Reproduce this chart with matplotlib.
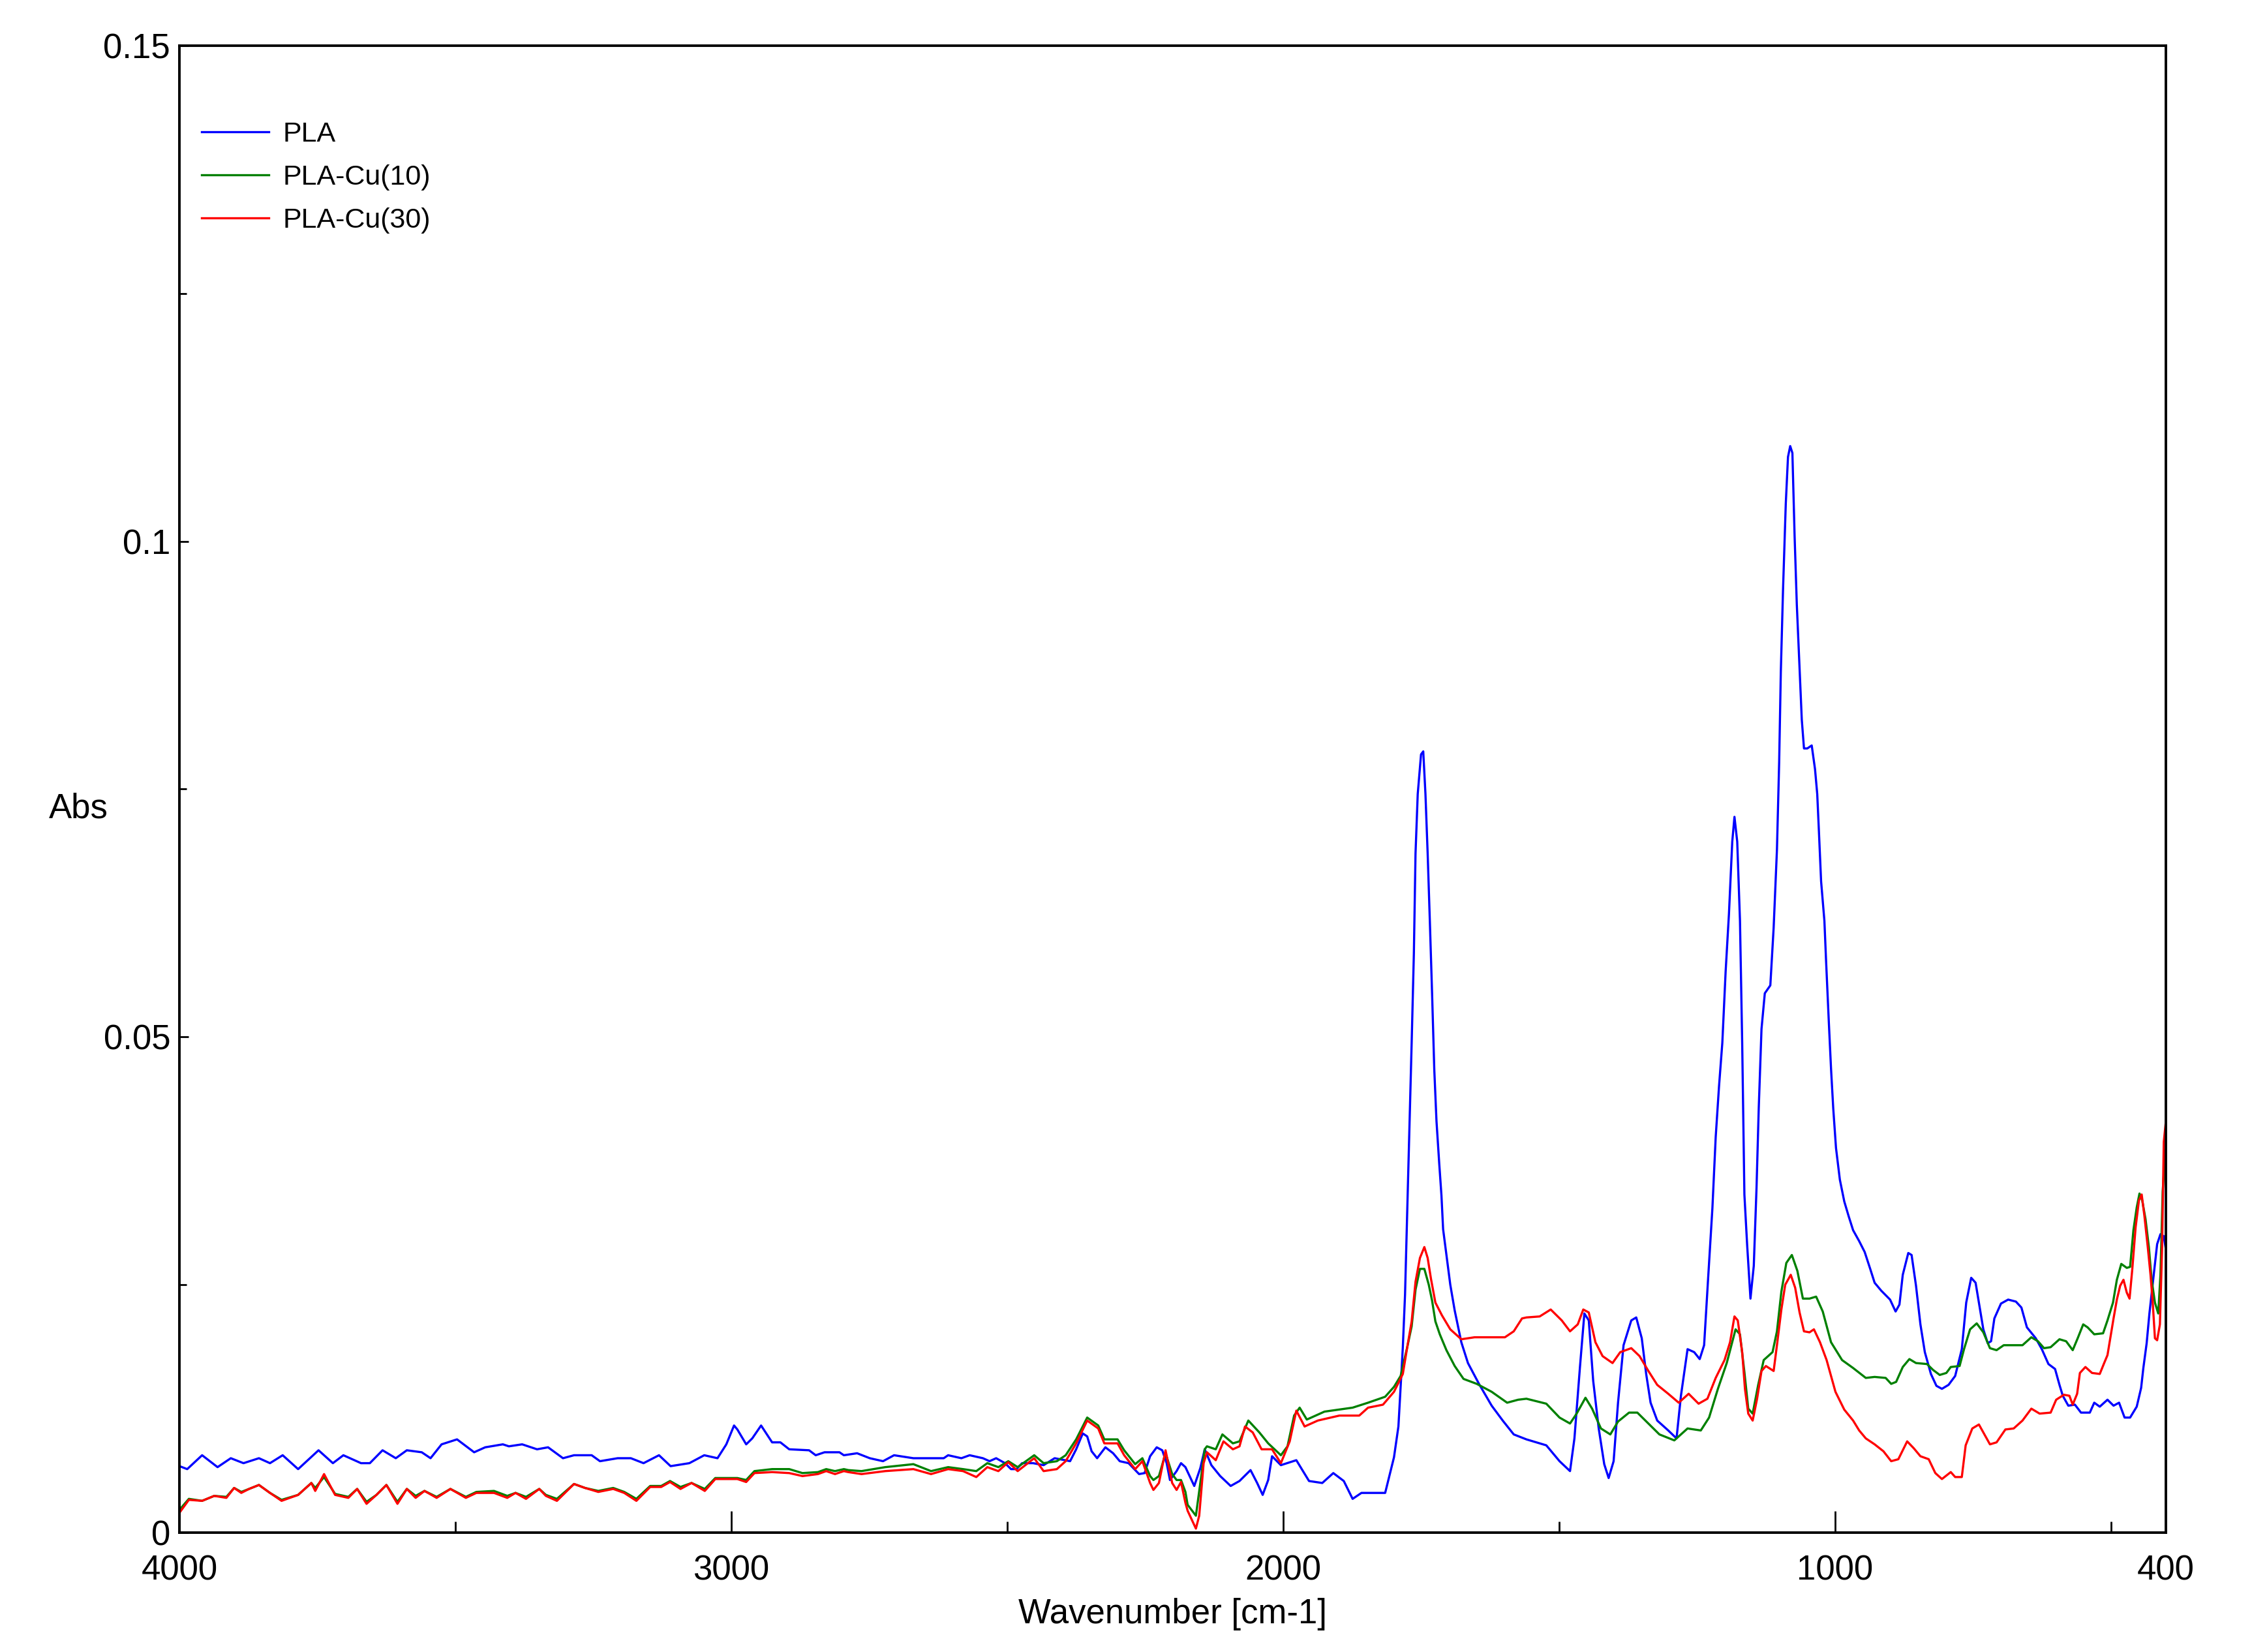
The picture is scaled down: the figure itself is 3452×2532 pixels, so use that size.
"""FTIR de PLA y PLA-Cu: absorbancia vs numero de onda (4000-400 cm-1)."""
import matplotlib
matplotlib.use("Agg")
import matplotlib.pyplot as plt
from matplotlib.ticker import FixedLocator

plt.rcParams["font.family"] = ["Liberation Sans", "DejaVu Sans"]

# --- datos (cm-1, Abs) ---
pla_wn = [4000, 3986, 3959, 3931, 3907, 3884, 3856, 3836, 3813, 3785, 3748, 3722, 3703, 3671, 3655,
          3632, 3608, 3588, 3561, 3545, 3525, 3497, 3466, 3446, 3414, 3403, 3379, 3352, 3332, 3305,
          3285, 3253, 3238, 3206, 3182, 3159, 3131, 3110, 3076, 3049, 3025, 3009, 2995, 2989, 2973,
          2962, 2946, 2926, 2911, 2895, 2859, 2847, 2831, 2804, 2796, 2772, 2749, 2725, 2705, 2670,
          2615, 2607, 2583, 2568, 2544, 2532, 2520, 2504, 2493, 2483, 2473, 2453, 2434, 2414, 2386,
          2375, 2363, 2355, 2347, 2337, 2322, 2308, 2296, 2280, 2261, 2251, 2241, 2229, 2219, 2211,
          2205, 2193, 2185, 2177, 2161, 2150, 2142, 2130, 2114, 2095, 2079, 2059, 2047, 2037, 2027,
          2020, 2004, 1976, 1953, 1929, 1909, 1890, 1874, 1858, 1815, 1799, 1791, 1783, 1779, 1775,
          1771, 1767, 1763, 1760, 1756, 1750, 1746, 1742, 1738, 1734, 1730, 1726, 1722, 1717, 1713,
          1710, 1704, 1697, 1689, 1677, 1665, 1645, 1622, 1602, 1582, 1559, 1523, 1499, 1480, 1472,
          1462, 1454, 1446, 1438, 1428, 1418, 1410, 1401, 1393, 1383, 1369, 1360, 1350, 1342, 1334,
          1322, 1302, 1287, 1279, 1267, 1255, 1245, 1237, 1230, 1222, 1216, 1210, 1204, 1198, 1192,
          1186, 1182, 1177, 1172, 1168, 1164, 1159, 1153, 1147, 1142, 1138, 1133, 1127, 1117, 1111,
          1105, 1101, 1098, 1094, 1089, 1085, 1081, 1077, 1073, 1069, 1064, 1060, 1056, 1050, 1042,
          1036, 1032, 1029, 1025, 1019, 1016, 1011, 1007, 1003, 998, 991, 983, 975, 967, 956,
          946, 936, 928, 916, 900, 890, 883, 877, 867, 861, 853, 845, 837, 826, 816,
          806, 794, 782, 770, 762, 753, 745, 739, 731, 723, 717, 711, 699, 686, 672,
          662, 652, 636, 625, 613, 601, 593, 587, 577, 565, 554, 538, 530, 520, 506,
          495, 485, 475, 465, 453, 445, 441, 435, 430, 424, 416, 410, 404, 400]
pla_abs = [0.0067, 0.0064, 0.0078, 0.0066, 0.0075, 0.0070, 0.0075, 0.0070, 0.0078, 0.0064, 0.0083, 0.0070, 0.0078, 0.0070, 0.0070,
           0.0083, 0.0075, 0.0083, 0.0081, 0.0075, 0.0089, 0.0094, 0.0081, 0.0086, 0.0089, 0.0087, 0.0089, 0.0084, 0.0086, 0.0075,
           0.0078, 0.0078, 0.0072, 0.0075, 0.0075, 0.0070, 0.0078, 0.0067, 0.0070, 0.0078, 0.0075, 0.0089, 0.0108, 0.0104, 0.0089,
           0.0095, 0.0108, 0.0091, 0.0091, 0.0084, 0.0083, 0.0078, 0.0081, 0.0081, 0.0078, 0.0080, 0.0075, 0.0072, 0.0078, 0.0075,
           0.0075, 0.0078, 0.0075, 0.0078, 0.0075, 0.0072, 0.0075, 0.0070, 0.0064, 0.0064, 0.0070, 0.0070, 0.0068, 0.0075, 0.0072,
           0.0084, 0.0100, 0.0097, 0.0082, 0.0075, 0.0086, 0.0080, 0.0072, 0.0070, 0.0059, 0.0060, 0.0077, 0.0086, 0.0083, 0.0070,
           0.0053, 0.0062, 0.0070, 0.0066, 0.0047, 0.0065, 0.0084, 0.0068, 0.0057, 0.0047, 0.0052, 0.0063, 0.0050, 0.0038, 0.0053,
           0.0077, 0.0068, 0.0073, 0.0052, 0.0050, 0.0060, 0.0052, 0.0034, 0.0040, 0.0040, 0.0076, 0.0107, 0.0187, 0.0240, 0.0325,
           0.0409, 0.0494, 0.0584, 0.0685, 0.0745, 0.0785, 0.0788, 0.0745, 0.0685, 0.0616, 0.0544, 0.0467, 0.0415, 0.0372, 0.0340,
           0.0306, 0.0280, 0.0250, 0.0224, 0.0192, 0.0171, 0.0150, 0.0128, 0.0113, 0.0099, 0.0094, 0.0088, 0.0072, 0.0062, 0.0095,
           0.0167, 0.0221, 0.0214, 0.0153, 0.0105, 0.0069, 0.0055, 0.0072, 0.0131, 0.0189, 0.0214, 0.0217, 0.0196, 0.0160, 0.0131,
           0.0113, 0.0103, 0.0095, 0.0138, 0.0185, 0.0182, 0.0175, 0.0189, 0.0254, 0.0327, 0.0399, 0.0450, 0.0494, 0.0566, 0.0624,
           0.0697, 0.0722, 0.0697, 0.0617, 0.0494, 0.0341, 0.0290, 0.0236, 0.0269, 0.0348, 0.0428, 0.0508, 0.0544, 0.0552, 0.0610,
           0.0689, 0.0777, 0.0868, 0.0951, 0.1038, 0.1085, 0.1096, 0.1089, 0.1005, 0.0936, 0.0871, 0.0820, 0.0791, 0.0791, 0.0794,
           0.0770, 0.0745, 0.0708, 0.0657, 0.0617, 0.0577, 0.0515, 0.0468, 0.0428, 0.0388, 0.0356, 0.0334, 0.0319, 0.0305, 0.0294,
           0.0283, 0.0266, 0.0252, 0.0244, 0.0235, 0.0223, 0.0230, 0.0260, 0.0282, 0.0280, 0.0249, 0.0210, 0.0182, 0.0160, 0.0148,
           0.0145, 0.0149, 0.0158, 0.0185, 0.0232, 0.0257, 0.0252, 0.0232, 0.0205, 0.0191, 0.0193, 0.0216, 0.0231, 0.0235, 0.0233,
           0.0227, 0.0207, 0.0196, 0.0185, 0.0170, 0.0165, 0.0149, 0.0138, 0.0128, 0.0129, 0.0121, 0.0121, 0.0131, 0.0127, 0.0134,
           0.0128, 0.0131, 0.0116, 0.0116, 0.0127, 0.0146, 0.0166, 0.0191, 0.0221, 0.0251, 0.0291, 0.0301, 0.0299, 0.0285]

cu10_wn = [4000, 3983, 3959, 3937, 3915, 3901, 3888, 3874, 3856, 3836, 3815, 3785, 3761, 3754, 3738,
           3718, 3694, 3678, 3661, 3643, 3625, 3605, 3588, 3572, 3556, 3534, 3509, 3481, 3462, 3430,
           3406, 3391, 3372, 3348, 3336, 3316, 3285, 3265, 3241, 3214, 3194, 3172, 3147, 3127, 3111,
           3092, 3072, 3048, 3029, 2989, 2973, 2958, 2926, 2895, 2871, 2843, 2828, 2812, 2796, 2788,
           2764, 2721, 2670, 2638, 2607, 2580, 2556, 2536, 2516, 2498, 2481, 2451, 2434, 2410, 2394,
           2375, 2355, 2335, 2324, 2300, 2288, 2268, 2255, 2241, 2235, 2225, 2213, 2201, 2193, 2185,
           2177, 2173, 2158, 2150, 2142, 2138, 2122, 2110, 2091, 2079, 2063, 2043, 2027, 2004, 1992,
           1980, 1970, 1957, 1925, 1874, 1846, 1815, 1799, 1787, 1775, 1767, 1760, 1752, 1744, 1736,
           1730, 1724, 1716, 1704, 1689, 1673, 1649, 1622, 1594, 1574, 1559, 1523, 1499, 1480, 1468,
           1452, 1440, 1424, 1407, 1393, 1373, 1358, 1338, 1318, 1291, 1267, 1243, 1228, 1212, 1196,
           1180, 1172, 1164, 1157, 1149, 1139, 1129, 1113, 1105, 1097, 1088, 1078, 1068, 1058, 1046,
           1034, 1022, 1007, 987, 967, 944, 928, 908, 898, 889, 877, 865, 853, 833, 822,
           810, 798, 790, 774, 766, 755, 743, 731, 719, 707, 694, 660, 644, 632, 621,
           609, 593, 581, 569, 560, 550, 542, 530, 514, 506, 496, 489, 481, 471, 465,
           459, 453, 448, 443, 437, 431, 426, 420, 414, 410, 406, 401]
cu10_abs = [0.0023, 0.0034, 0.0032, 0.0037, 0.0036, 0.0045, 0.0041, 0.0044, 0.0048, 0.0040, 0.0033, 0.0038, 0.0050, 0.0045, 0.0056,
            0.0039, 0.0036, 0.0044, 0.0031, 0.0038, 0.0048, 0.0031, 0.0044, 0.0037, 0.0042, 0.0036, 0.0044, 0.0036, 0.0041, 0.0042,
            0.0037, 0.0040, 0.0036, 0.0044, 0.0038, 0.0034, 0.0049, 0.0045, 0.0042, 0.0045, 0.0041, 0.0034, 0.0047, 0.0047, 0.0052,
            0.0046, 0.0050, 0.0044, 0.0055, 0.0055, 0.0053, 0.0062, 0.0064, 0.0064, 0.0060, 0.0061, 0.0064, 0.0062, 0.0064, 0.0063,
            0.0062, 0.0066, 0.0069, 0.0062, 0.0066, 0.0064, 0.0062, 0.0070, 0.0066, 0.0072, 0.0066, 0.0078, 0.0070, 0.0072, 0.0078,
            0.0094, 0.0116, 0.0108, 0.0094, 0.0094, 0.0083, 0.0069, 0.0075, 0.0057, 0.0053, 0.0057, 0.0080, 0.0059, 0.0053, 0.0053,
            0.0041, 0.0028, 0.0017, 0.0050, 0.0084, 0.0087, 0.0084, 0.0099, 0.0090, 0.0092, 0.0113, 0.0101, 0.0090, 0.0078, 0.0087,
            0.0118, 0.0126, 0.0114, 0.0122, 0.0126, 0.0131, 0.0137, 0.0147, 0.0158, 0.0187, 0.0208, 0.0245, 0.0266, 0.0266, 0.0250,
            0.0234, 0.0213, 0.0200, 0.0184, 0.0168, 0.0155, 0.0150, 0.0142, 0.0131, 0.0134, 0.0135, 0.0130, 0.0116, 0.0110, 0.0120,
            0.0136, 0.0125, 0.0105, 0.0099, 0.0112, 0.0121, 0.0121, 0.0110, 0.0099, 0.0093, 0.0105, 0.0103, 0.0116, 0.0145, 0.0171,
            0.0205, 0.0200, 0.0162, 0.0125, 0.0120, 0.0149, 0.0174, 0.0182, 0.0203, 0.0243, 0.0272, 0.0280, 0.0264, 0.0236, 0.0236,
            0.0238, 0.0223, 0.0192, 0.0174, 0.0166, 0.0156, 0.0157, 0.0156, 0.0150, 0.0152, 0.0167, 0.0175, 0.0171, 0.0170, 0.0164,
            0.0159, 0.0161, 0.0167, 0.0168, 0.0185, 0.0205, 0.0211, 0.0202, 0.0186, 0.0184, 0.0189, 0.0189, 0.0197, 0.0193, 0.0186,
            0.0187, 0.0195, 0.0193, 0.0184, 0.0196, 0.0210, 0.0207, 0.0200, 0.0201, 0.0214, 0.0232, 0.0255, 0.0271, 0.0267, 0.0268,
            0.0305, 0.0328, 0.0342, 0.0335, 0.0316, 0.0288, 0.0255, 0.0232, 0.0221, 0.0260, 0.0344, 0.0386]

cu30_wn = [4000, 3983, 3959, 3937, 3915, 3901, 3888, 3874, 3856, 3836, 3815, 3785, 3761, 3754, 3738,
           3718, 3694, 3678, 3661, 3643, 3625, 3605, 3588, 3572, 3556, 3534, 3509, 3481, 3462, 3430,
           3406, 3391, 3372, 3348, 3336, 3316, 3285, 3265, 3241, 3214, 3194, 3172, 3147, 3127, 3111,
           3092, 3072, 3048, 3029, 2989, 2973, 2958, 2926, 2895, 2871, 2843, 2828, 2812, 2796, 2788,
           2764, 2721, 2670, 2638, 2607, 2580, 2556, 2536, 2516, 2498, 2481, 2451, 2434, 2410, 2394,
           2375, 2355, 2335, 2324, 2300, 2288, 2268, 2255, 2241, 2235, 2225, 2213, 2201, 2193, 2185,
           2177, 2173, 2158, 2152, 2144, 2138, 2122, 2108, 2091, 2079, 2069, 2055, 2039, 2020, 2004,
           1988, 1976, 1961, 1937, 1898, 1862, 1846, 1819, 1799, 1783, 1775, 1767, 1760, 1752, 1744,
           1738, 1732, 1724, 1712, 1697, 1677, 1653, 1630, 1598, 1582, 1567, 1559, 1535, 1515, 1495,
           1480, 1466, 1456, 1446, 1434, 1421, 1403, 1389, 1369, 1354, 1338, 1322, 1302, 1283, 1265,
           1247, 1231, 1216, 1200, 1190, 1182, 1176, 1168, 1163, 1157, 1149, 1141, 1133, 1125, 1111,
           1105, 1097, 1090, 1080, 1072, 1064, 1056, 1046, 1038, 1027, 1015, 999, 983, 967, 956,
           944, 928, 912, 898, 885, 869, 857, 845, 830, 818, 806, 790, 782, 770, 763,
           751, 739, 729, 719, 707, 691, 676, 660, 644, 629, 609, 599, 585, 575, 569,
           561, 556, 546, 534, 520, 512, 506, 500, 495, 489, 483, 477, 471, 466, 461,
           455, 449, 444, 439, 433, 428, 424, 420, 416, 411, 407, 404, 400]
cu30_abs = [0.0020, 0.0033, 0.0032, 0.0037, 0.0035, 0.0045, 0.0040, 0.0044, 0.0048, 0.0040, 0.0032, 0.0038, 0.0050, 0.0042, 0.0059,
            0.0038, 0.0035, 0.0044, 0.0029, 0.0038, 0.0048, 0.0029, 0.0044, 0.0035, 0.0042, 0.0035, 0.0044, 0.0035, 0.0040, 0.0040,
            0.0035, 0.0040, 0.0034, 0.0044, 0.0037, 0.0032, 0.0049, 0.0045, 0.0041, 0.0044, 0.0040, 0.0032, 0.0046, 0.0046, 0.0051,
            0.0044, 0.0050, 0.0042, 0.0054, 0.0054, 0.0051, 0.0060, 0.0061, 0.0060, 0.0057, 0.0059, 0.0062, 0.0059, 0.0062, 0.0061,
            0.0059, 0.0062, 0.0064, 0.0059, 0.0064, 0.0062, 0.0056, 0.0066, 0.0062, 0.0071, 0.0062, 0.0075, 0.0062, 0.0064, 0.0072,
            0.0090, 0.0113, 0.0105, 0.0090, 0.0090, 0.0078, 0.0064, 0.0072, 0.0050, 0.0043, 0.0050, 0.0083, 0.0050, 0.0043, 0.0051,
            0.0030, 0.0022, 0.0004, 0.0017, 0.0070, 0.0081, 0.0073, 0.0092, 0.0084, 0.0087, 0.0107, 0.0101, 0.0084, 0.0084, 0.0070,
            0.0092, 0.0123, 0.0107, 0.0113, 0.0118, 0.0118, 0.0126, 0.0129, 0.0142, 0.0160, 0.0187, 0.0213, 0.0253, 0.0277, 0.0288,
            0.0277, 0.0256, 0.0232, 0.0219, 0.0205, 0.0195, 0.0197, 0.0197, 0.0197, 0.0203, 0.0216, 0.0217, 0.0218, 0.0225, 0.0214,
            0.0203, 0.0210, 0.0225, 0.0222, 0.0192, 0.0178, 0.0171, 0.0182, 0.0186, 0.0178, 0.0163, 0.0149, 0.0140, 0.0131, 0.0140,
            0.0130, 0.0135, 0.0156, 0.0174, 0.0192, 0.0218, 0.0214, 0.0182, 0.0145, 0.0120, 0.0113, 0.0135, 0.0163, 0.0168, 0.0163,
            0.0189, 0.0225, 0.0250, 0.0260, 0.0247, 0.0222, 0.0203, 0.0202, 0.0205, 0.0192, 0.0174, 0.0142, 0.0124, 0.0113, 0.0103,
            0.0095, 0.0089, 0.0082, 0.0072, 0.0074, 0.0092, 0.0085, 0.0077, 0.0074, 0.0060, 0.0054, 0.0061, 0.0056, 0.0056, 0.0088,
            0.0105, 0.0109, 0.0099, 0.0089, 0.0091, 0.0104, 0.0105, 0.0113, 0.0125, 0.0120, 0.0121, 0.0134, 0.0139, 0.0138, 0.0129,
            0.0140, 0.0161, 0.0167, 0.0161, 0.0160, 0.0171, 0.0179, 0.0199, 0.0216, 0.0235, 0.0249, 0.0255, 0.0242, 0.0236, 0.0266,
            0.0308, 0.0335, 0.0341, 0.0319, 0.0288, 0.0260, 0.0232, 0.0196, 0.0194, 0.0210, 0.0288, 0.0394, 0.0416]

labels = ["PLA", "PLA-Cu(10)", "PLA-Cu(30)"]
colors = ["#0000ff", "#008000", "#ff0000"]
x_ticks = [4000, 3000, 2000, 1000, 400]
x_minor = [3500, 2500, 1500, 500]
y_ticks = [0, 0.05, 0.1, 0.15]
y_ticklabels = ["0", "0.05", "0.1", "0.15"]
y_minor = [0.025, 0.075, 0.125]


def main():
    fig = plt.figure(figsize=(17.26, 12.66), dpi=200)
    ax = fig.add_axes([0.0797, 0.0723, 0.8821, 0.9001])

    series = [(pla_wn, pla_abs), (cu10_wn, cu10_abs), (cu30_wn, cu30_abs)]
    for (wn, ab), lab, col in zip(series, labels, colors):
        ax.plot(wn, ab, color=col, linewidth=1.2, label=lab)

    ax.set_xlim(4000, 400)
    ax.set_ylim(0, 0.15)
    ax.set_xticks(x_ticks)
    ax.set_xticklabels([str(t) for t in x_ticks])
    ax.xaxis.set_minor_locator(FixedLocator(x_minor))
    ax.set_yticks(y_ticks)
    ax.set_yticklabels(y_ticklabels)
    ax.yaxis.set_minor_locator(FixedLocator(y_minor))

    ax.tick_params(axis="x", which="major", direction="in", length=12, width=1.0,
                   labelsize=19, pad=12)
    ax.tick_params(axis="x", which="minor", direction="in", length=6, width=1.0)
    ax.tick_params(axis="y", which="major", direction="in", length=5, width=1.0,
                   labelsize=19, pad=5)
    ax.tick_params(axis="y", which="minor", direction="in", length=4, width=1.0)
    for s in ax.spines.values():
        s.set_linewidth(1.4)

    ax.set_xlabel("Wavenumber [cm-1]", fontsize=19, labelpad=6)
    ax.text(-0.051, 0.487, "Abs", transform=ax.transAxes, fontsize=19,
            ha="center", va="center")

    ax.legend(loc="upper left", bbox_to_anchor=(0.011, 0.949), frameon=False,
              fontsize=15.5, handlelength=2.4, handletextpad=0.5, labelspacing=0.6,
              borderpad=0, borderaxespad=0)

    fig.savefig("out.png", dpi=200)
    plt.close(fig)


if __name__ == "__main__":
    main()
